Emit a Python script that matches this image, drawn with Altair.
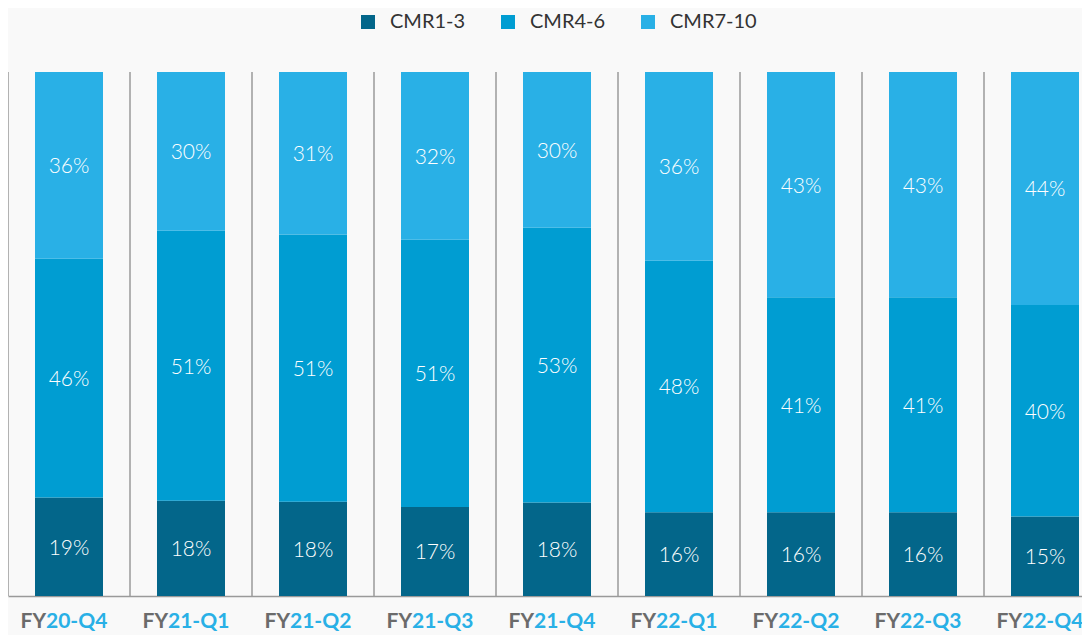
import altair as alt
import pandas as pd

quarters = ["FY20-Q4", "FY21-Q1", "FY21-Q2", "FY21-Q3", "FY21-Q4",
            "FY22-Q1", "FY22-Q2", "FY22-Q3", "FY22-Q4"]
series = ["CMR1-3", "CMR4-6", "CMR7-10"]
cmr_1_3 = [19, 18, 18, 17, 18, 16, 16, 16, 15]
cmr_4_6 = [46, 51, 51, 51, 53, 48, 41, 41, 40]
cmr_7_10 = [36, 30, 31, 32, 30, 36, 43, 43, 44]
colors = ["#03668a", "#009dd2", "#29b0e6"]

rows = []
for i, q in enumerate(quarters):
    for k, (s, vals) in enumerate(zip(series, [cmr_1_3, cmr_4_6, cmr_7_10])):
        rows.append({"quarter": q, "series": s, "value": vals[i], "order": k})
df = pd.DataFrame(rows)
qdf = pd.DataFrame({"quarter": quarters})

FONT = "Lato"

xenc = alt.X(
    "quarter:N", sort=quarters,
    scale=alt.Scale(range=[0, 1098], paddingInner=0, paddingOuter=0),
    axis=alt.Axis(labels=False, ticks=False, title=None,
                  domainColor="#9a9a9a", domainWidth=1.5, grid=False),
)

base = alt.Chart(df).transform_stack(
    stack="value", groupby=["quarter"],
    sort=[alt.SortField("order", order="ascending")],
    as_=["y0", "y1"], offset="normalize",
).transform_calculate(
    mid="(datum.y0 + datum.y1) / 2",
    label="datum.value + '%'",
)

bars = base.mark_bar(size=68).encode(
    x=xenc,
    y=alt.Y("y0:Q", scale=alt.Scale(domain=[0, 1]), axis=None),
    y2="y1",
    color=alt.Color(
        "series:N",
        scale=alt.Scale(domain=series, range=colors),
        legend=alt.Legend(
            orient="none", legendX=350, legendY=-60, direction="horizontal",
            title=None, symbolType="square", symbolSize=196,
            symbolStrokeWidth=0, labelFontSize=20, labelFont=FONT,
            labelColor="#333333", labelOffset=12, columnPadding=32,
        ),
    ),
)

texts = base.mark_text(color="white", fontSize=21, font=FONT,
                       fontWeight=300, baseline="middle", dy=2).encode(
    x=xenc,
    y=alt.Y("mid:Q", scale=alt.Scale(domain=[0, 1]), axis=None),
    text="label:N",
)

seps = alt.Chart(qdf).mark_rule(color="#9a9a9a", strokeWidth=1.5).encode(
    x=alt.X("quarter:N", sort=quarters, bandPosition=0),
    y=alt.value(0), y2=alt.value(524),
)

lab_base = alt.Chart(qdf).transform_calculate(
    fy="substring(datum.quarter, 0, 2)",
    rest="substring(datum.quarter, 2)",
)
fy_lab = lab_base.mark_text(align="right", dx=-23, font=FONT, fontWeight="bold",
                            fontSize=21, color="#6b6b6b", baseline="middle").encode(
    x=alt.X("quarter:N", sort=quarters), y=alt.value(550), text="fy:N")
rest_lab = lab_base.mark_text(align="left", dx=-23, font=FONT, fontWeight="bold",
                              fontSize=21, color="#29b0e6", baseline="middle").encode(
    x=alt.X("quarter:N", sort=quarters), y=alt.value(550), text="rest:N")

chart = alt.layer(seps, bars, texts, fy_lab, rest_lab).properties(
    width=1074, height=524,
    autosize=alt.AutoSizeParams(type="none"),
    padding={"left": 0, "top": 64, "right": 0, "bottom": 39},
    background="#f9f9f9",
).configure_view(stroke=None)

chart.save("out.html", embed_options={"renderer": "svg", "actions": False})
